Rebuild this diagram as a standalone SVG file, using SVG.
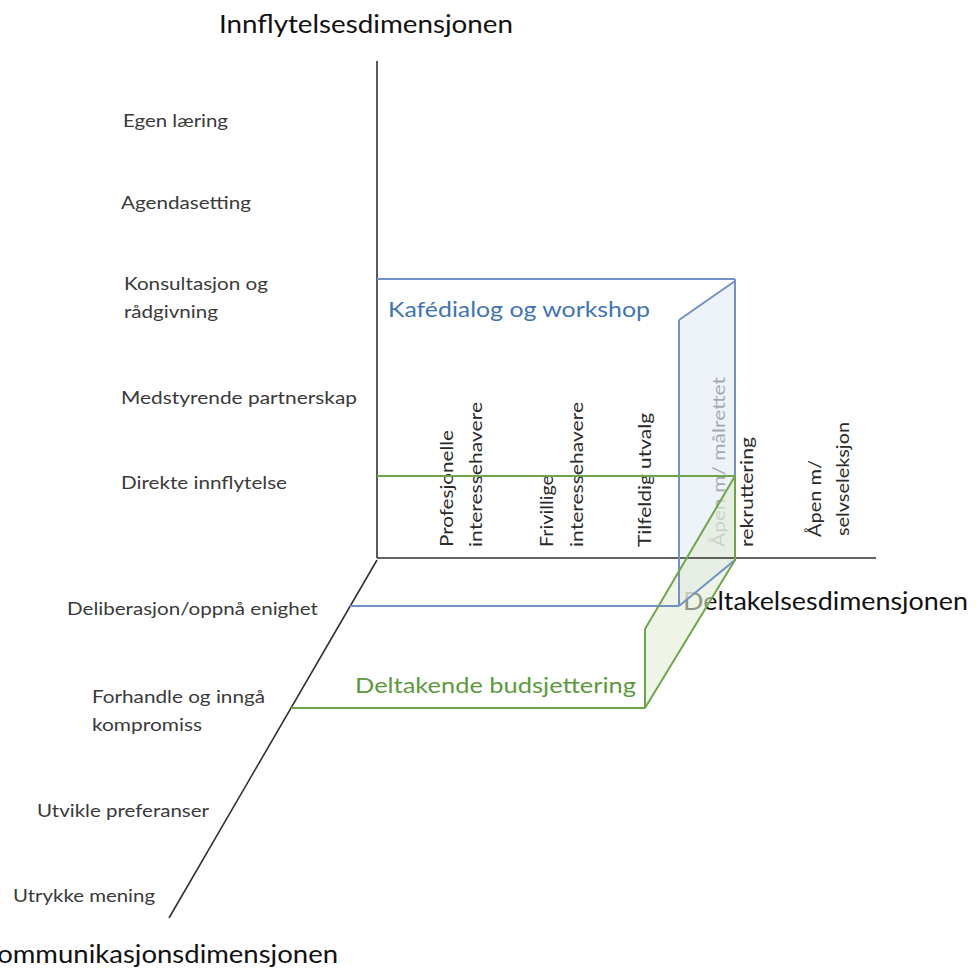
<svg xmlns="http://www.w3.org/2000/svg" width="976" height="971" viewBox="0 0 976 971">
<style>
text{font-family:Lato,"Liberation Sans",sans-serif}
.lbl{font-size:18px;fill:#3a3a3a}
.ttl{font-size:25px;fill:#111}
.vt{font-size:17px;fill:#2a2a2a}
.axis{stroke:#333;stroke-width:1.6;fill:none}
.bl{stroke:#7391c9;stroke-width:2;fill:none}
.gr{stroke:#6fa64a;stroke-width:2;fill:none}
</style>
<rect width="976" height="971" fill="#fff"/>
<g id="titles">
<text class="ttl" x="219" y="33" textLength="294" lengthAdjust="spacingAndGlyphs">Innflytelsesdimensjonen</text>
<text class="ttl" x="683" y="610" textLength="285" lengthAdjust="spacingAndGlyphs">Deltakelsesdimensjonen</text>
<text class="ttl" x="-20" y="963" textLength="358" lengthAdjust="spacingAndGlyphs">Kommunikasjonsdimensjonen</text>
</g>
<g id="influence-levels">
<text class="lbl" x="123" y="127" textLength="105" lengthAdjust="spacingAndGlyphs">Egen læring</text>
<text class="lbl" x="121" y="209" textLength="130" lengthAdjust="spacingAndGlyphs">Agendasetting</text>
<text class="lbl" x="124" y="290" textLength="144" lengthAdjust="spacingAndGlyphs">Konsultasjon og</text>
<text class="lbl" x="124" y="318" textLength="94" lengthAdjust="spacingAndGlyphs">rådgivning</text>
<text class="lbl" x="121" y="404" textLength="236" lengthAdjust="spacingAndGlyphs">Medstyrende partnerskap</text>
<text class="lbl" x="121" y="489" textLength="166" lengthAdjust="spacingAndGlyphs">Direkte innflytelse</text>
</g>
<g id="communication-levels">
<text class="lbl" x="67" y="615" textLength="251" lengthAdjust="spacingAndGlyphs">Deliberasjon/oppnå enighet</text>
<text class="lbl" x="92" y="703" textLength="173" lengthAdjust="spacingAndGlyphs">Forhandle og inngå</text>
<text class="lbl" x="92" y="731" textLength="110" lengthAdjust="spacingAndGlyphs">kompromiss</text>
<text class="lbl" x="37" y="817" textLength="172" lengthAdjust="spacingAndGlyphs">Utvikle preferanser</text>
<text class="lbl" x="13" y="902" textLength="142" lengthAdjust="spacingAndGlyphs">Utrykke mening</text>
</g>
<g id="participation-levels">
<text class="vt" transform="translate(453,547) rotate(-90)" textLength="117" lengthAdjust="spacingAndGlyphs">Profesjonelle</text>
<text class="vt" transform="translate(482,547) rotate(-90)" textLength="145" lengthAdjust="spacingAndGlyphs">interessehavere</text>
<text class="vt" transform="translate(553,547) rotate(-90)" textLength="72" lengthAdjust="spacingAndGlyphs">Frivillige</text>
<text class="vt" transform="translate(583,547) rotate(-90)" textLength="145" lengthAdjust="spacingAndGlyphs">interessehavere</text>
<text class="vt" transform="translate(651,547) rotate(-90)" textLength="134" lengthAdjust="spacingAndGlyphs">Tilfeldig utvalg</text>
<text class="vt" transform="translate(725,547) rotate(-90)" textLength="170" lengthAdjust="spacingAndGlyphs">Åpen m/ målrettet</text>
<text class="vt" transform="translate(753,547) rotate(-90)" textLength="110" lengthAdjust="spacingAndGlyphs">rekruttering</text>
<text class="vt" transform="translate(821,537) rotate(-90)" textLength="77" lengthAdjust="spacingAndGlyphs">Åpen m/</text>
<text class="vt" transform="translate(849,536) rotate(-90)" textLength="114" lengthAdjust="spacingAndGlyphs">selvseleksjon</text>
</g>
<g id="kafedialog">
<polygon points="679,320 735,281 735,560 679,606" fill="#e5ebf6" fill-opacity="0.65"/>
<text x="388" y="317" font-size="22" fill="#3f74b6" textLength="262" lengthAdjust="spacingAndGlyphs">Kafédialog og workshop</text>
</g>
<g id="budsjettering">
<polygon points="735,476 735,560 645,708 645,629" fill="#e3edd5" fill-opacity="0.6"/>
<text x="355" y="693" font-size="22" fill="#5d9a3c" textLength="281" lengthAdjust="spacingAndGlyphs">Deltakende budsjettering</text>
</g>
<g id="connectors">
<path class="axis" d="M377,61 V558 M377,558 H876 M377,560 L169,918"/>
<path class="bl" d="M377,279 H735 M679,320 L735,281 M735,279 V560 L679,606 M679,320 V606 M350,606 H679"/>
<path class="gr" d="M377,476 H735 V560 L645,708 M735,476 L645,629 V708 M291,708 H645"/>
</g>
</svg>
